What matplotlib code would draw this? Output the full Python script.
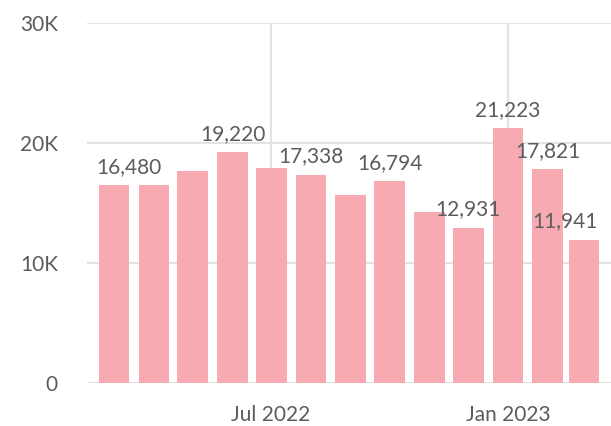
import matplotlib
matplotlib.use("Agg")
import matplotlib.pyplot as plt
import matplotlib.dates as mdates
import datetime as dt

# Monthly totals, Mar 2022 - Mar 2023
months = ["2022-03", "2022-04", "2022-05", "2022-06", "2022-07", "2022-08",
          "2022-09", "2022-10", "2022-11", "2022-12", "2023-01", "2023-02",
          "2023-03"]
values = [16480, 16450, 17650, 19220, 17880, 17338, 15650, 16794, 14280,
          12931, 21223, 17821, 11941]
# which bars carry a value label, and horizontal nudge (points) of each label
labelled = [0, 3, 5, 7, 9, 10, 11, 12]
label_dx = {0: 11, 12: -14}

y_ticks = [0, 10000, 20000, 30000]
y_tick_labels = ["0", "10K", "20K", "30K"]
x_ticks = ["2022-07", "2023-01"]
x_tick_labels = ["Jul 2022", "Jan 2023"]

bar_color = "#F8AAB2"
text_color = "#5c5c5c"
grid_color = "#e3e3e3"

plt.rcParams["font.family"] = ["Lato", "DejaVu Sans"]

dates = [dt.datetime.strptime(m, "%Y-%m") for m in months]
xt = [dt.datetime.strptime(m, "%Y-%m") for m in x_ticks]

fig = plt.figure(figsize=(6.11, 4.26), dpi=100)
ax = fig.add_axes([0.1424, 0.1009, 0.8576, 0.8458])

ax.bar(dates, values, width=24, color=bar_color, zorder=3)

for i in labelled:
    ax.annotate(f"{values[i]:,}", (mdates.date2num(dates[i]), values[i]),
                xytext=(label_dx.get(i, 0), 6), textcoords="offset points",
                ha="center", va="bottom", fontsize=15, color=text_color,
                zorder=4)

ax.set_ylim(0, 30000)
ax.set_xlim(dt.datetime(2022, 2, 8), dt.datetime(2023, 3, 22))
ax.set_yticks(y_ticks)
ax.set_yticklabels(y_tick_labels)
ax.set_xticks(xt)
ax.set_xticklabels(x_tick_labels)

ax.tick_params(axis="both", length=0, labelsize=15, labelcolor=text_color)
ax.tick_params(axis="y", pad=21)
ax.tick_params(axis="x", pad=16)

ax.grid(True, color=grid_color, linewidth=1.5, zorder=0)
ax.set_axisbelow(True)
for s in ax.spines.values():
    s.set_visible(False)

fig.savefig("out.png", dpi=100, facecolor="white")
